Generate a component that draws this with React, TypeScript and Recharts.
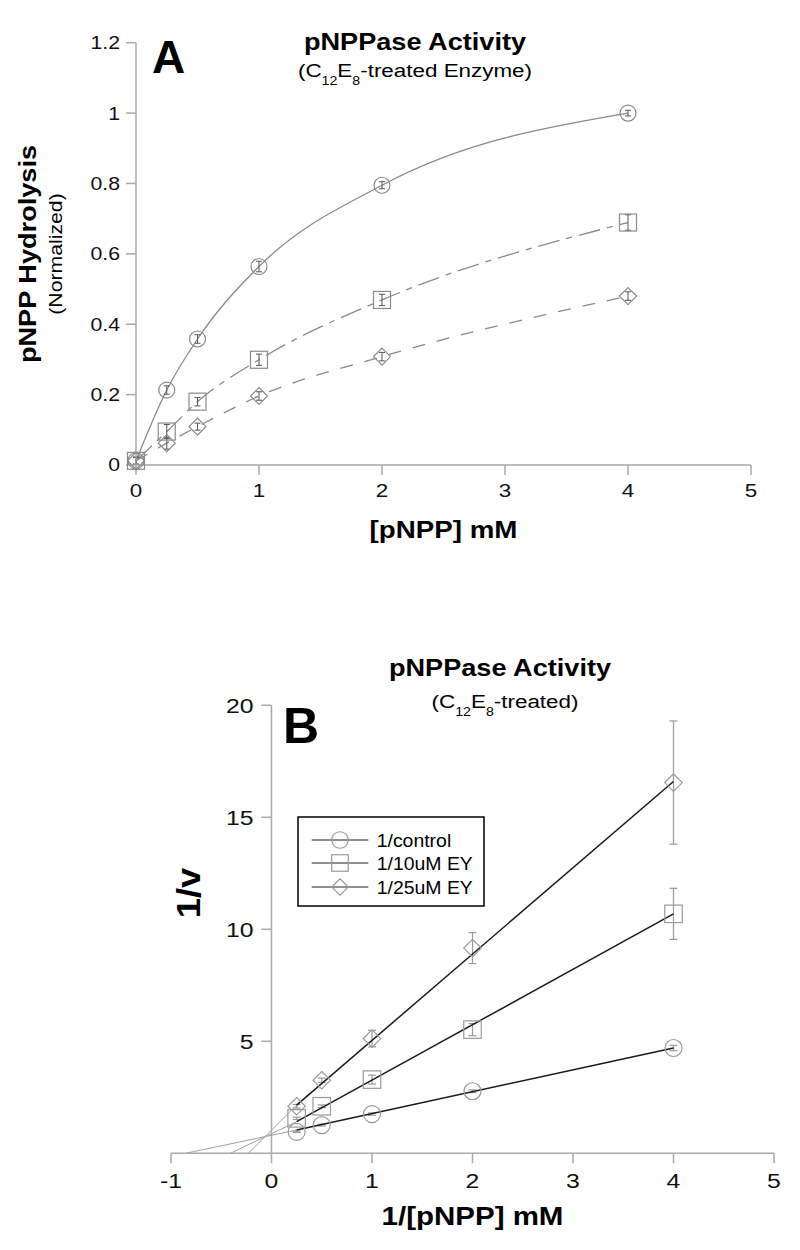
import React from 'react';
import { ComposedChart, Line, Scatter, XAxis, YAxis, ErrorBar, ReferenceLine } from 'recharts';

// ---------- Panel A data : [pNPP] mM vs normalized hydrolysis ----------
const concA = [0, 0.25, 0.5, 1, 2, 4];
const controlA = [0.012, 0.213, 0.358, 0.564, 0.795, 1.0];
const controlAErr = [0.01, 0.012, 0.012, 0.015, 0.01, 0.008];
const ey10A = [0.012, 0.095, 0.18, 0.299, 0.469, 0.689];
const ey10AErr = [0.01, 0.02, 0.012, 0.016, 0.016, 0.022];
const ey25A = [0.012, 0.062, 0.109, 0.196, 0.308, 0.48];
const ey25AErr = [0.01, 0.017, 0.01, 0.012, 0.012, 0.012];
const xTicksA = [0, 1, 2, 3, 4, 5];
const yTicksA = [0, 0.2, 0.4, 0.6, 0.8, 1, 1.2];

// ---------- Panel B data : double reciprocal ----------
const invConcB = [0.25, 0.5, 1, 2, 4];
const controlB = [0.96, 1.26, 1.75, 2.77, 4.7];
const controlBErr = [0.03, 0.04, 0.05, 0.06, 0.12];
const ey10B = [1.56, 2.1, 3.29, 5.52, 10.69];
const ey10BErr = [0.05, 0.06, 0.2, 0.27, 1.14];
const ey25B = [2.1, 3.26, 5.12, 9.16, 16.55];
const ey25BErr = [0.08, 0.1, 0.37, 0.69, 2.75];
const fitRangeB = [0.25, 4];
const controlFitB = [1.04, 4.7];
const ey10FitB = [1.41, 10.69];
const ey25FitB = [2.15, 16.6];
const xInterceptsB = [-0.855, -0.41, -0.23];
const xTicksB = [-1, 0, 1, 2, 3, 4, 5];
const yTicksB = [5, 10, 15, 20];
const legendLabelsB = ['1/control', '1/10uM EY', '1/25uM EY'];

// ---------- styling ----------
const FONT = '"Liberation Sans", Arial, Helvetica, sans-serif';
const SX = 1.18;
const AXIS = '#a9a9a9';
const GRAY_A = '#8a8a8a';
const GRAY_B = '#9a9a9a';
const INK = '#111';

const mk = (xs: number[], ys: number[], es?: number[]) =>
  xs.map((x, i) => ({ x, y: ys[i], err: es ? es[i] : 0 }));

const controlAData = mk(concA, controlA, controlAErr);
const ey10AData = mk(concA, ey10A, ey10AErr);
const ey25AData = mk(concA, ey25A, ey25AErr);

const controlBData = mk(invConcB, controlB, controlBErr);
const ey10BData = mk(invConcB, ey10B, ey10BErr);
const ey25BData = mk(invConcB, ey25B, ey25BErr);
const controlFitData = mk(fitRangeB, controlFitB);
const ey10FitData = mk(fitRangeB, ey10FitB);
const ey25FitData = mk(fitRangeB, ey25FitB);
const controlExtData = [{ x: xInterceptsB[0], y: 0 }, { x: fitRangeB[0], y: controlFitB[0] }];
const ey10ExtData = [{ x: xInterceptsB[1], y: 0 }, { x: fitRangeB[0], y: ey10FitB[0] }];
const ey25ExtData = [{ x: xInterceptsB[2], y: 0 }, { x: fitRangeB[0], y: ey25FitB[0] }];

type Kind = 'circle' | 'square' | 'diamond';

function Marker({ cx, cy, kind, size, stroke }: { cx: number; cy: number; kind: Kind; size: number; stroke: string }) {
  if (cx == null || cy == null || isNaN(cx) || isNaN(cy)) return null;
  const h = size / 2;
  const common = { fill: 'none', stroke, strokeWidth: 1.2 };
  if (kind === 'circle') return <circle cx={cx} cy={cy} r={h} {...common} />;
  if (kind === 'square') return <rect x={cx - h} y={cy - h} width={size} height={size} {...common} />;
  return <polygon points={`${cx},${cy - h} ${cx + h},${cy} ${cx},${cy + h} ${cx - h},${cy}`} {...common} />;
}

const shapeOf = (kind: Kind, size: number, stroke: string) => (p: any) =>
  <Marker cx={p.cx} cy={p.cy} kind={kind} size={size} stroke={stroke} />;

const xTick = (fontSize: number) => (p: any) => (
  <g transform={`translate(${p.x},${p.y}) scale(${SX},1)`}>
    <text x={0} y={0} dy="0.72em" textAnchor="middle" fontSize={fontSize} fill={INK} fontFamily={FONT}>
      {p.payload.value}
    </text>
  </g>
);

const yTick = (fontSize: number) => (p: any) => (
  <g transform={`translate(${p.x},${p.y}) scale(${SX},1)`}>
    <text x={0} y={0} dy="0.36em" textAnchor="end" fontSize={fontSize} fill={INK} fontFamily={FONT}>
      {p.payload.value}
    </text>
  </g>
);

const yTickLabelB = (v: number) => (props: any) => {
  const vb = props && props.viewBox;
  if (!vb) return null;
  const x = vb.x - 8;
  const y = vb.y + (vb.height || 0) / 2;
  return (
    <g transform={`translate(${x},${y}) scale(${SX},1)`}>
      <text x={0} y={0} dy="0.36em" textAnchor="end" fontSize={21} fill={INK} fontFamily={FONT}>
        {v}
      </text>
    </g>
  );
};

function ChartA() {
  return (
    <ComposedChart width={800} height={600} margin={{ top: 42.7, right: 49, bottom: 75, left: 76 }}>
      <XAxis type="number" dataKey="x" domain={[0, 5]} ticks={xTicksA} interval={0} height={60}
        tickSize={10} tickMargin={8} stroke={AXIS} strokeWidth={1.5} tick={xTick(19)} />
      <YAxis type="number" domain={[0, 1.2]} ticks={yTicksA} interval={0} width={60}
        tickSize={10} tickMargin={6} stroke={AXIS} strokeWidth={1.5} tick={yTick(18)} />
      <Line data={controlAData} dataKey="y" type="monotone" stroke={GRAY_A} strokeWidth={1.3} dot={false} isAnimationActive={false} />
      <Line data={ey10AData} dataKey="y" type="monotone" stroke={GRAY_A} strokeWidth={1.3} strokeDasharray="22 7 6 7" dot={false} isAnimationActive={false} />
      <Line data={ey25AData} dataKey="y" type="monotone" stroke={GRAY_A} strokeWidth={1.3} strokeDasharray="13 12" dot={false} isAnimationActive={false} />
      <Scatter data={controlAData} dataKey="y" shape={shapeOf('circle', 16, GRAY_A)} isAnimationActive={false}>
        <ErrorBar dataKey="err" direction="y" width={3} stroke="#555" strokeWidth={1} />
      </Scatter>
      <Scatter data={ey10AData} dataKey="y" shape={shapeOf('square', 17, GRAY_A)} isAnimationActive={false}>
        <ErrorBar dataKey="err" direction="y" width={3} stroke="#555" strokeWidth={1} />
      </Scatter>
      <Scatter data={ey25AData} dataKey="y" shape={shapeOf('diamond', 17, GRAY_A)} isAnimationActive={false}>
        <ErrorBar dataKey="err" direction="y" width={3} stroke="#555" strokeWidth={1} />
      </Scatter>
    </ComposedChart>
  );
}

function ChartB() {
  return (
    <ComposedChart width={800} height={650} margin={{ top: 105.3, right: 26, bottom: 36.7, left: 171 }}>
      <XAxis type="number" dataKey="x" domain={[-1, 5]} ticks={xTicksB} interval={0} height={60}
        tickSize={10} tickMargin={10} stroke={AXIS} strokeWidth={1.5} tick={xTick(21)} />
      <YAxis type="number" domain={[0, 20]} hide />
      <ReferenceLine x={0} stroke={AXIS} strokeWidth={1.5} />
      {yTicksB.map((v) => (
        <ReferenceLine key={v} segment={[{ x: -0.1, y: v }, { x: 0, y: v }]} stroke={AXIS} strokeWidth={1.5}
          label={yTickLabelB(v)} />
      ))}
      <Scatter data={controlBData} dataKey="y" shape={shapeOf('circle', 17, GRAY_B)} isAnimationActive={false}>
        <ErrorBar dataKey="err" direction="y" width={4} stroke={GRAY_B} strokeWidth={1.2} />
      </Scatter>
      <Scatter data={ey10BData} dataKey="y" shape={shapeOf('square', 17.5, GRAY_B)} isAnimationActive={false}>
        <ErrorBar dataKey="err" direction="y" width={4} stroke={GRAY_B} strokeWidth={1.2} />
      </Scatter>
      <Scatter data={ey25BData} dataKey="y" shape={shapeOf('diamond', 17.5, GRAY_B)} isAnimationActive={false}>
        <ErrorBar dataKey="err" direction="y" width={4} stroke={GRAY_B} strokeWidth={1.2} />
      </Scatter>
      <Line data={controlExtData} dataKey="y" type="linear" stroke="#a0a0a0" strokeWidth={1} dot={false} isAnimationActive={false} />
      <Line data={ey10ExtData} dataKey="y" type="linear" stroke="#a0a0a0" strokeWidth={1} dot={false} isAnimationActive={false} />
      <Line data={ey25ExtData} dataKey="y" type="linear" stroke="#a0a0a0" strokeWidth={1} dot={false} isAnimationActive={false} />
      <Line data={controlFitData} dataKey="y" type="linear" stroke="#1a1a1a" strokeWidth={1.5} dot={false} isAnimationActive={false} />
      <Line data={ey10FitData} dataKey="y" type="linear" stroke="#1a1a1a" strokeWidth={1.5} dot={false} isAnimationActive={false} />
      <Line data={ey25FitData} dataKey="y" type="linear" stroke="#1a1a1a" strokeWidth={1.5} dot={false} isAnimationActive={false} />
    </ComposedChart>
  );
}

function Sub({ children }: { children: React.ReactNode }) {
  return <>{children}</>;
}

function Overlay() {
  const kinds: Kind[] = ['circle', 'square', 'diamond'];
  const rows = [840, 863, 887];
  return (
    <svg width={800} height={1250} style={{ position: 'absolute', left: 0, top: 0, pointerEvents: 'none' }} fontFamily={FONT}>
      {/* Panel A */}
      <text x={152} y={73} fontSize={46} fontWeight="bold" fill="#000">A</text>
      <g transform={`translate(415,50) scale(${SX},1)`}>
        <text textAnchor="middle" fontSize={23} fontWeight="bold" fill="#000">pNPPase Activity</text>
      </g>
      <g transform={`translate(415,76.7) scale(${SX},1)`}>
        <text textAnchor="middle" fontSize={19} fill="#000">
          (C<tspan fontSize={12} dy={8}>12</tspan><tspan dy={-8}>E</tspan><tspan fontSize={12} dy={8}>8</tspan><tspan dy={-8}>-treated Enzyme)</tspan>
        </text>
      </g>
      <g transform={`translate(35.5,254) rotate(-90) scale(${SX},1)`}>
        <text textAnchor="middle" fontSize={23} fontWeight="bold" fill="#000">pNPP Hydrolysis</text>
      </g>
      <g transform={`translate(62,254) rotate(-90) scale(${SX},1)`}>
        <text textAnchor="middle" fontSize={18} fill="#000">(Normalized)</text>
      </g>
      <g transform={`translate(443.5,538) scale(${SX},1)`}>
        <text textAnchor="middle" fontSize={23.5} fontWeight="bold" fill="#000">[pNPP] mM</text>
      </g>

      {/* Panel B */}
      <text x={283} y={743} fontSize={50} fontWeight="bold" fill="#000">B</text>
      <g transform={`translate(500,676) scale(${SX},1)`}>
        <text textAnchor="middle" fontSize={23} fontWeight="bold" fill="#000">pNPPase Activity</text>
      </g>
      <g transform={`translate(505,708) scale(${SX},1)`}>
        <text textAnchor="middle" fontSize={19} fill="#000">
          (C<tspan fontSize={12} dy={8}>12</tspan><tspan dy={-8}>E</tspan><tspan fontSize={12} dy={8}>8</tspan><tspan dy={-8}>-treated)</tspan>
        </text>
      </g>
      <g transform={`translate(200,893) rotate(-90) scale(1.1,1)`}>
        <text textAnchor="middle" fontSize={33} fontWeight="bold" fill="#000">1/v</text>
      </g>
      <g transform={`translate(472.5,1225) scale(${SX},1)`}>
        <text textAnchor="middle" fontSize={25} fontWeight="bold" fill="#000">1/[pNPP] mM</text>
      </g>

      {/* Legend B */}
      <rect x={298} y={817} width={186} height={89} fill="#fff" stroke="#000" strokeWidth={1.5} />
      {legendLabelsB.map((lab, i) => (
        <g key={lab}>
          <line x1={311.7} x2={368.3} y1={rows[i]} y2={rows[i]} stroke="#222" strokeWidth={1.1} />
          <Marker cx={340} cy={rows[i]} kind={kinds[i]} size={16.5} stroke={GRAY_B} />
          <g transform={`translate(376.7,${rows[i] + 6.5}) scale(1.08,1)`}>
            <text fontSize={18} fill="#000">{lab}</text>
          </g>
        </g>
      ))}
    </svg>
  );
}

export default function App() {
  return (
    <div style={{ position: 'absolute', left: 0, top: 0, width: 800, height: 1250, background: '#fff', fontFamily: FONT }}>
      <div style={{ position: 'absolute', left: 0, top: 0 }}>
        <ChartA />
      </div>
      <div style={{ position: 'absolute', left: 0, top: 600 }}>
        <ChartB />
      </div>
      <Overlay />
    </div>
  );
}
